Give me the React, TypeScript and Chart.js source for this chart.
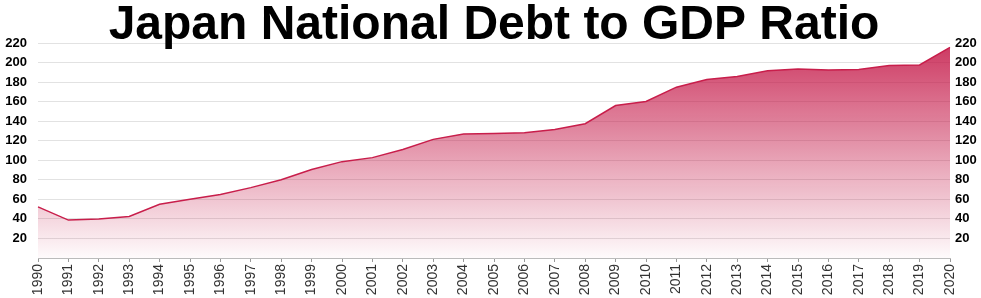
import React, { useEffect, useRef } from "react";
import { Chart, registerables } from "chart.js";

Chart.register(...registerables);

const years = [
  "1990", "1991", "1992", "1993", "1994", "1995", "1996", "1997", "1998", "1999",
  "2000", "2001", "2002", "2003", "2004", "2005", "2006", "2007", "2008", "2009",
  "2010", "2011", "2012", "2013", "2014", "2015", "2016", "2017", "2018", "2019", "2020",
];
const debtToGdp = [
  52.3, 38.8, 39.8, 42.5, 55, 60, 65, 72, 80, 90.5,
  98.6, 102.7, 111, 121.4, 126.9, 127.5, 128.2, 131.6, 137.4, 156,
  160.2, 174.8, 182.7, 185.7, 191.5, 193.5, 192.5, 192.9, 197, 197.6, 215.6,
];
const titleText = "Japan National Debt to GDP Ratio";
const yMin = 0;
const yMax = 220;
const yStep = 20;

const titlePlugin = {
  id: "bigTitle",
  afterDraw(chart: any) {
    const { ctx, chartArea } = chart;
    ctx.save();
    ctx.font = "bold 48px 'Liberation Sans', Arial, Helvetica, sans-serif";
    ctx.fillStyle = "#000";
    ctx.textAlign = "center";
    ctx.textBaseline = "alphabetic";
    ctx.fillText(titleText, (chartArea.left + chartArea.right) / 2, 39);
    ctx.restore();
  },
};

export default function App() {
  const ref = useRef<HTMLCanvasElement | null>(null);

  useEffect(() => {
    document.body.style.margin = "0";
    const canvas = ref.current!;
    const tickFormat = (v: any) => (Number(v) === 0 ? "" : String(v));
    const chart = new Chart(canvas, {
      type: "line",
      data: {
        labels: years,
        datasets: [
          {
            data: debtToGdp,
            borderColor: "#c81e4b",
            borderWidth: 1.5,
            pointRadius: 0,
            tension: 0,
            fill: "origin",
            backgroundColor: (c: any) => {
              const area = c.chart.chartArea;
              if (!area) return "rgba(196,22,70,0.4)";
              const g = c.chart.ctx.createLinearGradient(0, area.top, 0, area.bottom);
              g.addColorStop(0, "rgba(196,22,70,0.85)");
              g.addColorStop(1, "rgba(196,22,70,0.02)");
              return g;
            },
          },
        ],
      },
      options: {
        animation: false,
        responsive: false,
        maintainAspectRatio: false,
        layout: { padding: { top: 43, left: 0, right: 0, bottom: 0 } },
        plugins: {
          legend: { display: false },
          title: { display: false },
          tooltip: { enabled: false },
        },
        scales: {
          x: {
            grid: { display: true, drawOnChartArea: false, tickLength: 4, color: "#999" },
            border: { display: true, color: "#bbb" },
            ticks: {
              minRotation: 90,
              maxRotation: 90,
              autoSkip: false,
              padding: 2,
              color: "#333",
              font: { family: "'Liberation Sans', Arial, sans-serif", size: 14 },
            },
            afterFit: (s: any) => { s.height = 40; },
          },
          y: {
            position: "left",
            min: yMin,
            max: yMax,
            grid: { color: "#e2e2e2", drawTicks: false },
            border: { display: false },
            ticks: {
              stepSize: yStep,
              padding: 11,
              color: "#000",
              font: { family: "'Liberation Sans', Arial, sans-serif", size: 13, weight: "bold" },
              callback: tickFormat,
            },
            afterFit: (s: any) => { s.width = 38; },
          },
          y1: {
            position: "right",
            min: yMin,
            max: yMax,
            grid: { display: false, drawTicks: false },
            border: { display: false },
            ticks: {
              stepSize: yStep,
              padding: 5,
              color: "#000",
              font: { family: "'Liberation Sans', Arial, sans-serif", size: 13, weight: "bold" },
              callback: tickFormat,
            },
            afterFit: (s: any) => { s.width = 31; },
          },
        },
      },
      plugins: [titlePlugin],
    } as any);
    return () => chart.destroy();
  }, []);

  return (
    <div style={{ width: 981, height: 298 }}>
      <canvas ref={ref} width={981} height={298} style={{ display: "block" }} />
    </div>
  );
}
